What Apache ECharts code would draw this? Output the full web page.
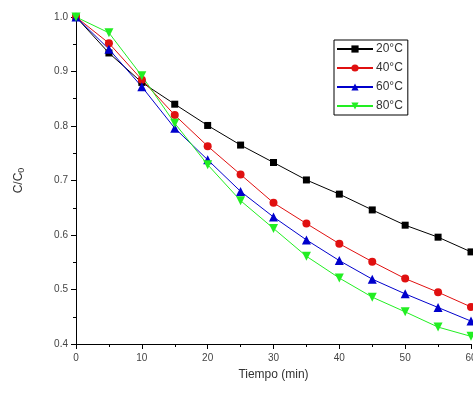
<!DOCTYPE html>
<html><head><meta charset="utf-8">
<script src="https://cdn.jsdelivr.net/npm/echarts@6/dist/echarts.min.js"></script>
<style>html,body{margin:0;padding:0;background:#fff}#c{width:473px;height:394px}</style>
</head><body><div id="c"></div>
<script>
const times = [0,5,10,15,20,25,30,35,40,45,50,55,60];
const c20 = [1.0,0.934,0.880,0.840,0.801,0.765,0.733,0.701,0.675,0.646,0.618,0.596,0.569];
const c40 = [1.0,0.952,0.885,0.820,0.763,0.711,0.659,0.621,0.584,0.551,0.520,0.495,0.468];
const c60 = [1.0,0.941,0.872,0.796,0.738,0.680,0.633,0.591,0.553,0.519,0.492,0.467,0.442];
const c80 = [1.0,0.971,0.892,0.805,0.729,0.663,0.612,0.561,0.521,0.486,0.459,0.431,0.414];
const names = ['20°C','40°C','60°C','80°C'];
const xTicks = [0,10,20,30,40,50,60];
const yTicks = [0.4,0.5,0.6,0.7,0.8,0.9,1.0];

const font = 'Liberation Sans, Arial, sans-serif';
function mk(name, vals, color, symbol, size, rot){
  return {name, type:'line', data: times.map((t,i)=>[t, vals[i]]),
    symbol, symbolSize:size, symbolRotate:rot||0, showAllSymbol:true,
    lineStyle:{color, width:1}, itemStyle:{color}, animation:false};
}
const chart = echarts.init(document.getElementById('c'));
chart.setOption({
  backgroundColor:'#fff',
  animation:false,
  grid:{left:76,right:2,top:17,bottom:50,containLabel:false,outerBoundsMode:'none'},
  legend:{
    orient:'vertical', left:334, top:40, itemGap:7, itemWidth:36, itemHeight:9,
    borderColor:'#000', borderWidth:1, padding:[3,5,3,2], borderRadius:0,
    textStyle:{fontFamily:font, fontSize:12, color:'#333', padding:[0,0,0,-2]},
    data: names
  },
  xAxis:{type:'value', min:0, max:60, interval:10,
    axisLine:{lineStyle:{color:'#000',width:1}},
    axisTick:{show:true, length:5, inside:false, lineStyle:{color:'#000'}},
    minorTick:{show:true, splitNumber:2, length:3, lineStyle:{color:'#000'}},
    splitLine:{show:false},
    axisLabel:{color:'#444', fontFamily:font, fontSize:10, margin:9, hideOverlap:false,
      formatter:v=> xTicks.includes(v)? String(v):''},
    name:'Tiempo (min)', nameLocation:'middle', nameGap:25,
    nameTextStyle:{fontFamily:font, fontSize:12, color:'#333'}
  },
  yAxis:{type:'value', min:0.4, max:1.0, interval:0.1,
    axisLine:{show:true, lineStyle:{color:'#000',width:1}},
    axisTick:{show:true, length:5, lineStyle:{color:'#000'}},
    minorTick:{show:true, splitNumber:2, length:3, lineStyle:{color:'#000'}},
    splitLine:{show:false},
    axisLabel:{color:'#444', fontFamily:font, fontSize:10, margin:8,
      formatter:v=> v.toFixed(1)},
    name:'C/C{s|0}', nameLocation:'middle', nameGap:50, nameRotate:90,
    nameTextStyle:{fontFamily:font, fontSize:12, color:'#333',
      rich:{s:{fontFamily:font, fontSize:9, color:'#333', padding:[6,0,0,0]}}}
  },
  series:[
    mk(names[0], c20, '#000000', 'rect', 7),
    mk(names[1], c40, '#e01010', 'circle', 8),
    mk(names[2], c60, '#0000cc', 'triangle', 9),
    mk(names[3], c80, '#22ee22', 'triangle', 9, 180)
  ]
});
</script></body></html>
